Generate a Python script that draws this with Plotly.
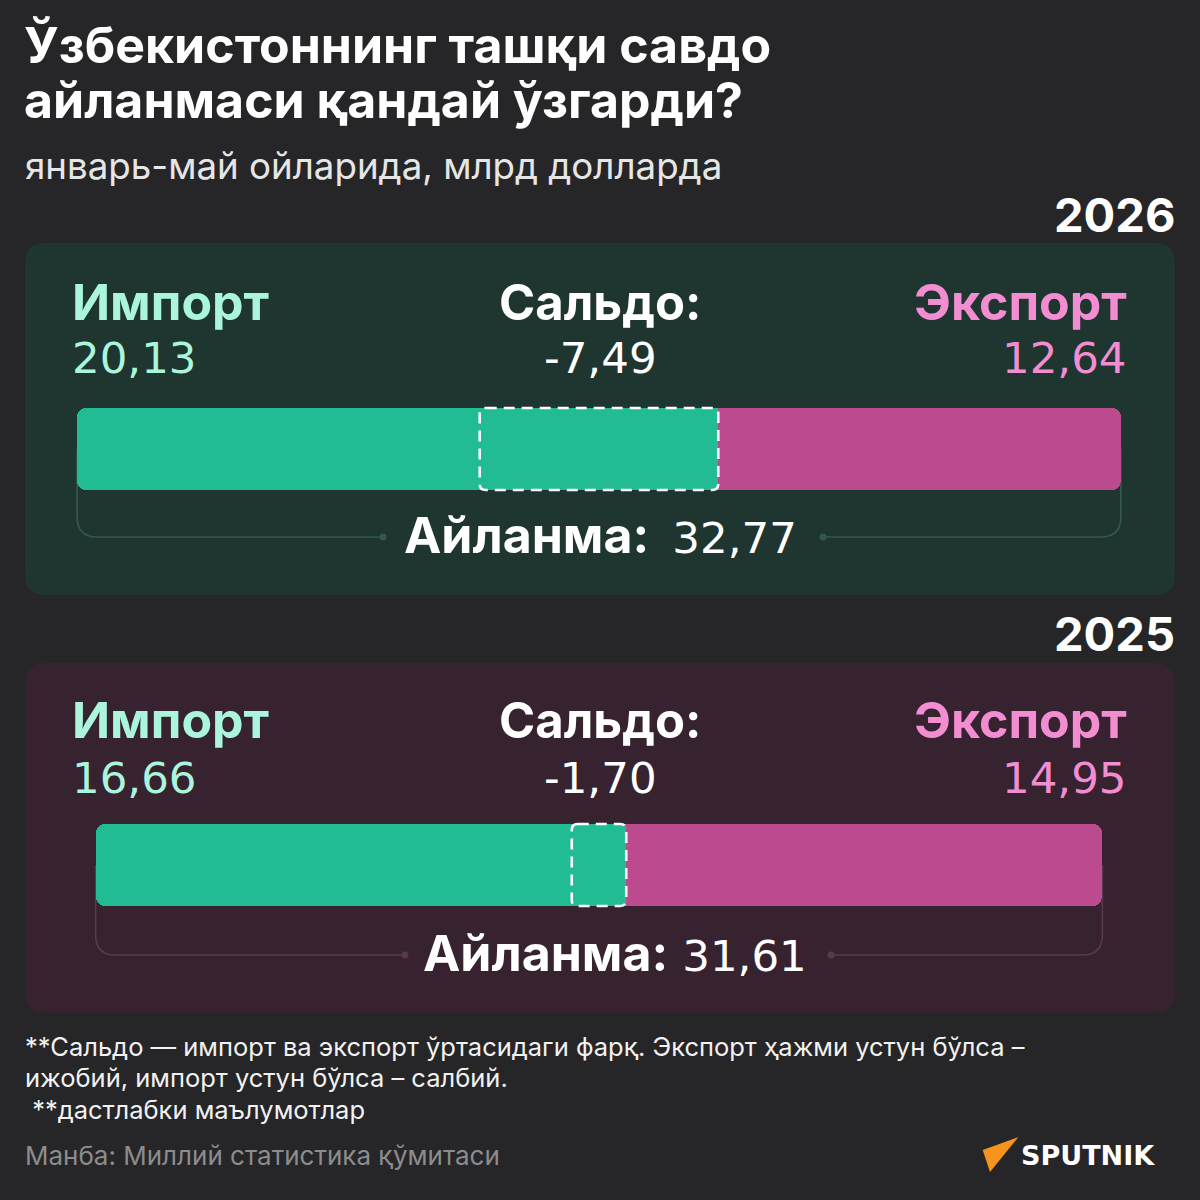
import plotly.graph_objects as go

# ---------------- data ----------------
years = ["2026", "2025"]
imports = [20.13, 16.66]
exports = [12.64, 14.95]
saldo = [-7.49, -1.70]
turnover = [32.77, 31.61]

title_lines = ["Ўзбекистоннинг ташқи савдо", "айланмаси қандай ўзгарди?"]
subtitle = "январь-май ойларида, млрд долларда"
lbl_import = "Импорт"
lbl_saldo = "Сальдо:"
lbl_export = "Экспорт"
lbl_turnover = "Айланма:"
footnotes = [
    "**Сальдо — импорт ва экспорт ўртасидаги фарқ. Экспорт ҳажми устун бўлса –",
    "ижобий, импорт устун бўлса – салбий.",
    " **дастлабки маълумотлар",
]
source = "Манба: Миллий статистика қўмитаси"
brand = "SPUTNIK"

# ---------------- styling / layout ----------------
W = H = 1200
BG = "#262628"
GREEN = "#22bc94"
PINK = "#bb4b8e"
MINT = "#aaf5dc"
ROSE = "#f38dd1"
FONT = "Inter"
NUMFONT = "DejaVu Sans"
PXU = 31.85          # pixels per billion dollars
CX = 599             # pixel centre of bars

panels = [
    dict(top=243, bottom=595, fill="#1f3530", line="#35584d", year_y=214,
         head_y=302, val_y=358, bar_y=449, bracket_y=535, dots=(383, 823),
         gap="&nbsp;&#8201;", tcx=600),
    dict(top=663, bottom=1013, fill="#372230", line="#5a394c", year_y=633,
         head_y=720, val_y=778, bar_y=865, bracket_y=953, dots=(405, 831),
         gap="&nbsp;", tcx=615),
]
BAR_H = 82


def fmt(v):
    return f"{v:.2f}".replace(".", ",")


def rrect(x0, y0, x1, y1, rx, ry):
    return (f"M{x0+rx},{y0} L{x1-rx},{y0} Q{x1},{y0} {x1},{y0+ry} "
            f"L{x1},{y1-ry} Q{x1},{y1} {x1-rx},{y1} L{x0+rx},{y1} "
            f"Q{x0},{y1} {x0},{y1-ry} L{x0},{y0+ry} Q{x0},{y0} {x0+rx},{y0} Z")


def py(y):
    return 1 - y / H


fig = go.Figure()
shapes = []
ann = []


def text(x, y, s, size, color, bold=False, xanchor="left", family=FONT):
    ann.append(dict(x=x / W, y=py(y), xref="paper", yref="paper", text=(f"<b>{s}</b>" if bold else s),
                    showarrow=False, xanchor=xanchor, yanchor="middle",
                    font=dict(family=family, size=size, color=color)))


# titles
text(22, 45, title_lines[0], 50, "white", bold=True)
text(22, 100, title_lines[1], 50, "white", bold=True)
text(23, 166, subtitle, 36.7, "#e6e6e6")

for i, p in enumerate(panels):
    imp, exp, tot, sal = imports[i], exports[i], turnover[i], saldo[i]
    # panel background
    shapes.append(dict(type="path", xref="paper", yref="y", layer="below",
                       path=rrect(25 / W, p["top"], 1175 / W, p["bottom"], 20 / W, 20),
                       fillcolor=p["fill"], line=dict(width=0)))
    text(1177, p["year_y"], years[i], 47, "white", bold=True, xanchor="right")
    text(70, p["head_y"], lbl_import, 50, MINT, bold=True)
    text(70, p["val_y"], fmt(imp), 43.5, MINT, family=NUMFONT)
    text(600, p["head_y"], lbl_saldo, 49, "white", bold=True, xanchor="center")
    text(600, p["val_y"], fmt(sal), 43.5, "white", xanchor="center", family=NUMFONT)
    text(1129, p["head_y"], lbl_export, 50, ROSE, bold=True, xanchor="right")
    text(1129, p["val_y"], fmt(exp), 43.5, ROSE, xanchor="right", family=NUMFONT)
    text(p["tcx"], p["bracket_y"],
         f"<b>{lbl_turnover}</b>{p['gap']}"
         f"<span style=\"font-family:'{NUMFONT}';font-size:43.5px\">{fmt(tot)}</span>",
         50, "white", xanchor="center")

    left = -tot / 2
    right = tot / 2
    mid = left + imp
    # bracket under bar
    r = 20
    rx = r / PXU
    yb = p["bracket_y"] + 2
    yt = p["bar_y"]
    dl = (p["dots"][0] - CX) / PXU
    dr = (p["dots"][1] - CX) / PXU
    shapes.append(dict(type="path", xref="x", yref="y", layer="below",
                       path=f"M{left},{yt} L{left},{yb-r} Q{left},{yb} {left+rx},{yb} L{dl},{yb}",
                       line=dict(color=p["line"], width=1.6)))
    shapes.append(dict(type="path", xref="x", yref="y", layer="below",
                       path=f"M{dr},{yb} L{right-rx},{yb} Q{right},{yb} {right},{yb-r} L{right},{yt}",
                       line=dict(color=p["line"], width=1.6)))
    fig.add_trace(go.Scatter(x=[dl, dr], y=[yb, yb], mode="markers",
                             marker=dict(color=p["line"], size=7), hoverinfo="skip", showlegend=False))

    # bars: rounded full segments + square patches at the junction
    for base, length, color, cr in [
        (left, imp, GREEN, 9), (mid, exp, PINK, 9),
        (left + imp / 2, imp / 2, GREEN, 0), (mid, exp / 2, PINK, 0),
    ]:
        fig.add_trace(go.Bar(orientation="h", y=[yt], x=[length], base=[base], width=BAR_H,
                             marker=dict(color=color, line=dict(width=0), cornerradius=cr),
                             hoverinfo="skip", showlegend=False))
    # saldo dashed box
    s0 = left + min(imp, exp)
    s1 = left + max(imp, exp)
    shapes.append(dict(type="path", xref="x", yref="y", layer="above",
                       path=rrect(s0, yt - BAR_H / 2, s1, yt + BAR_H / 2, 6 / PXU, 6),
                       line=dict(color="white", width=2.6, dash="11px,7px")))

# footnotes
for k, line in enumerate(footnotes):
    text(23, 1046 + k * 31.5, line, 25.5, "#f2f2f2")
text(23, 1155, source, 26, "#8c8c8e")

# sputnik logo
shapes.append(dict(type="path", xref="paper", yref="paper",
                   path=f"M{982.7/W},{py(1150)} L{1018.5/W},{py(1137)} L{990/W},{py(1172)} Z",
                   fillcolor="#f7941d", line=dict(width=0)))
text(1019, 1155, brand, 27, "white", bold=True, family="DejaVu Sans")

fig.update_layout(
    width=W, height=H, margin=dict(l=0, r=0, t=0, b=0),
    paper_bgcolor=BG, plot_bgcolor=BG, barmode="overlay", bargap=0,
    xaxis=dict(range=[-CX / PXU, (W - CX) / PXU], visible=False, fixedrange=True),
    yaxis=dict(range=[H, 0], visible=False, fixedrange=True),
    shapes=shapes, annotations=ann, showlegend=False,
)
fig.write_html("out.html")
